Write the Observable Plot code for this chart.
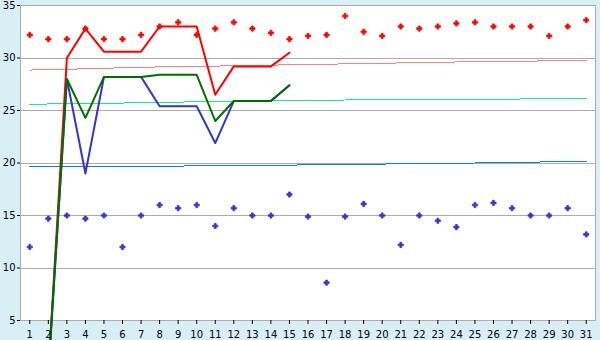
<!DOCTYPE html>
<html><head><meta charset="utf-8">
<script src="https://cdn.jsdelivr.net/npm/d3@7"></script>
<script src="https://cdn.jsdelivr.net/npm/@observablehq/plot@0.6"></script>
<style>
html,body{margin:0;padding:0;background:#d9eff6;}
#chart svg{display:block;}
</style></head><body><div id="chart"></div>
<script>
const days = [1,2,3,4,5,6,7,8,9,10,11,12,13,14,15,16,17,18,19,20,21,22,23,24,25,26,27,28,29,30,31];
const yTicks = [5,10,15,20,25,30,35];

// scatter series
const redPoints = [32.2,31.8,31.8,32.8,31.8,31.8,32.2,33.0,33.4,32.2,32.8,33.4,32.8,32.4,31.8,32.1,32.2,34.0,32.5,32.1,33.0,32.8,33.0,33.3,33.4,33.0,33.0,33.0,32.1,33.0,33.6];
const bluePoints = [12.0,14.7,15.0,14.7,15.0,12.0,15.0,16.0,15.7,16.0,14.0,15.7,15.0,15.0,17.0,14.9,8.6,14.9,16.1,15.0,12.2,15.0,14.5,13.9,16.0,16.2,15.7,15.0,15.0,15.7,13.2];

// reference (slowly rising) lines
const pinkRef = [28.85,28.9,28.93,28.97,29.02,29.07,29.12,29.15,29.18,29.2,29.23,29.26,29.29,29.32,29.35,29.38,29.41,29.44,29.47,29.5,29.53,29.56,29.59,29.62,29.65,29.67,29.69,29.71,29.72,29.74,29.76];
const greenRef = [25.6,25.62,25.64,25.66,25.68,25.71,25.74,25.77,25.8,25.83,25.86,25.88,25.9,25.92,25.94,25.96,25.98,26.0,26.01,26.02,26.03,26.04,26.05,26.06,26.07,26.08,26.09,26.1,26.11,26.12,26.13];
const blueRef = [19.63,19.64,19.65,19.66,19.67,19.68,19.69,19.7,19.71,19.72,19.73,19.75,19.77,19.79,19.8,19.82,19.84,19.86,19.88,19.9,19.92,19.94,19.96,19.98,20.0,20.02,20.05,20.08,20.11,20.14,20.18];

// data lines (days 2..15)
const lineDays = [2,3,4,5,6,7,8,9,10,11,12,13,14,15];
const redLine   = [0,30.0,32.8,30.6,30.6,30.6,33.0,33.0,33.0,26.5,29.2,29.2,29.2,30.5];
const blueLine  = [0,28.0,19.0,28.2,28.2,28.2,25.4,25.4,25.4,21.9,25.9,25.9,25.9,27.4];
const greenLine = [0,28.0,24.3,28.2,28.2,28.2,28.4,28.4,28.4,24.0,25.9,25.9,25.9,27.4];

const rows = (xs, ys) => xs.map((d, i) => ({x: d, y: ys[i]}));
const crisp = {shapeRendering: "crispEdges"};

const chart = Plot.plot({
  width: 600,
  height: 340,
  marginLeft: 20,
  marginRight: 5,
  marginTop: 5,
  marginBottom: 20,
  style: {background: "#d9eff6", fontFamily: "DejaVu Sans", fontSize: "10px", color: "black"},
  x: {type: "linear", domain: [0.5, 31.5], label: null},
  y: {domain: [5, 35], label: null},
  marks: [
    Plot.frame({fill: "white", stroke: "none"}),
    Plot.ruleY(yTicks, {stroke: "#acacac", strokeWidth: 1, ...crisp}),
    Plot.frame({stroke: "#acacac", fill: "none", ...crisp}),
    Plot.line(rows(days, pinkRef), {x: "x", y: "y", stroke: "#ff8080", strokeWidth: 1, ...crisp}),
    Plot.line(rows(days, greenRef), {x: "x", y: "y", stroke: "#10f080", strokeWidth: 1, ...crisp}),
    Plot.line(rows(days, blueRef), {x: "x", y: "y", stroke: "#0a7cf0", strokeWidth: 1, ...crisp}),
    Plot.line(rows(lineDays, redLine), {x: "x", y: "y", stroke: "#ff0000", strokeWidth: 2}),
    Plot.line(rows(lineDays, blueLine), {x: "x", y: "y", stroke: "#3535c8", strokeWidth: 2}),
    Plot.line(rows(lineDays, greenLine), {x: "x", y: "y", stroke: "#006e00", strokeWidth: 2}),
    Plot.dot(rows(days, redPoints), {x: "x", y: "y", symbol: "cross", r: 2.2, fill: "#ff0000", stroke: "#ff0000", strokeWidth: 0.8}),
    Plot.dot(rows(days, bluePoints), {x: "x", y: "y", symbol: "cross", r: 2.2, fill: "#3535c8", stroke: "#3535c8", strokeWidth: 0.8}),
    Plot.axisY({ticks: yTicks, tickSize: 3, tickPadding: 2, fontSize: 10, label: null}),
    Plot.axisX({ticks: days, tickFormat: d => String(d), tickSize: 4, tickPadding: 6, fontSize: 10, label: null})
  ]
});
document.getElementById("chart").appendChild(chart);
</script></body></html>
